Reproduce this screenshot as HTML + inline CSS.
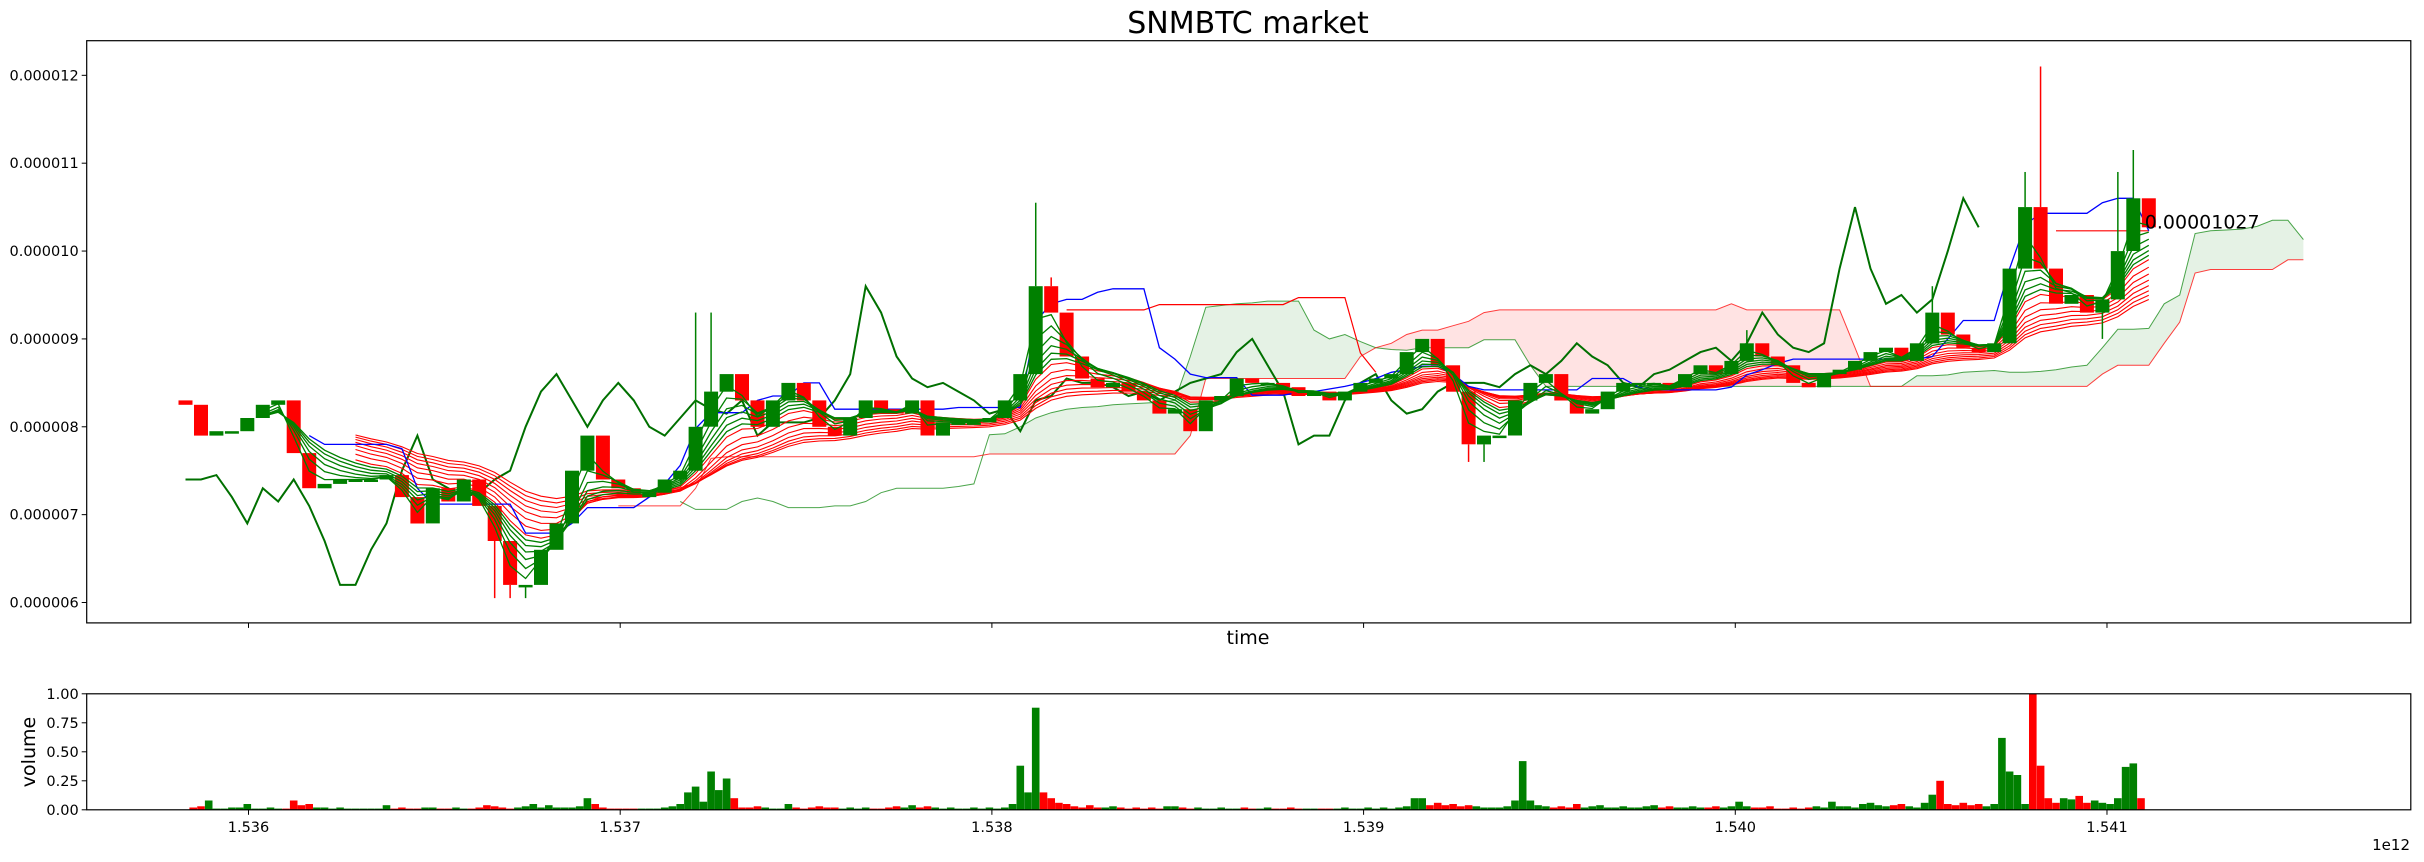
<!DOCTYPE html>
<html><head><meta charset="utf-8"><style>
html,body{margin:0;padding:0;background:#fff;}
svg{display:block;font-family:"DejaVu Sans","Liberation Sans",sans-serif;}
</style></head><body>
<svg id="chart" width="2424" height="862" viewBox="0 0 2424 862" xmlns="http://www.w3.org/2000/svg">
<rect x="0" y="0" width="2424" height="862" fill="#fff"/>
<text x="1248" y="33" font-size="30" text-anchor="middle" fill="#000">SNMBTC market</text>
<g id="main"></g>
<g id="vol"></g>
<rect x="86.7" y="40.7" width="2324.1" height="582.2" fill="none" stroke="#000" stroke-width="1.2"/>
<rect x="86.7" y="693.8" width="2324.1" height="116" fill="none" stroke="#000" stroke-width="1.2"/>
<text x="1248" y="644" font-size="19" text-anchor="middle">time</text>
<text transform="translate(35,752) rotate(-90)" font-size="19" text-anchor="middle">volume</text>
<text x="2410" y="850" font-size="15" text-anchor="end">1e12</text>
<g id="axes"></g>
</svg>
<script>
// ---- data ----
const closes = [8.25,7.9,7.95,7.95,8.1,8.25,8.3,7.7,
7.3,7.35,7.4,7.4,7.4,7.45,7.2,6.9,7.3,7.15,
7.4,7.1,6.7,6.2,6.2,6.6,6.9,7.5,7.9,7.4,
7.3,7.2,7.25,7.4,7.5,8.0,8.4,8.6,8.3,8.0,
8.3,8.5,8.3,8.0,7.9,8.1,8.3,8.2,8.15,8.3,
7.9,8.05,8.05,8.05,8.1,8.3,8.6,9.6,9.3,8.8,
8.55,8.45,8.5,8.4,8.3,8.15,8.2,7.95,8.3,8.35,
8.55,8.5,8.5,8.45,8.35,8.4,8.3,8.4,8.5,8.55,
8.6,8.85,9.0,8.7,8.4,7.8,7.9,7.9,8.3,8.5,
8.6,8.3,8.15,8.2,8.4,8.5,8.5,8.5,8.45,8.6,
8.7,8.6,8.75,8.95,8.8,8.7,8.5,8.45,8.6,8.65,
8.75,8.85,8.9,8.75,8.95,9.3,9.05,8.9,8.85,8.95,
9.8,10.5,9.8,9.4,9.5,9.3,9.45,10.0,10.6,10.27];
const firstOpen = 8.3;
const wickHighs = {33:9.3,34:9.3,55:10.55,56:9.7,101:9.1,113:9.6,119:10.9,120:12.1,125:10.9,126:11.15};
const wickLows = {20:6.05,21:6.05,22:6.05,83:7.6,84:7.6,124:9.0};
const kijun = [null,null,null,null,null,null,null,null,
7.9,7.8,7.8,7.8,7.8,7.8,7.75,7.3,7.12,7.12,7.12,7.12,7.12,7.12,6.79,6.79,6.79,6.9,7.08,7.08,7.08,7.08,
7.2,7.35,7.56,7.98,8.16,8.16,8.16,8.3,8.35,8.35,8.5,8.5,8.2,8.2,8.2,8.2,8.2,8.2,8.2,8.2,
8.22,8.22,8.22,8.22,8.22,9.2,9.4,9.45,9.45,9.53,9.57,9.57,9.57,8.9,8.77,8.6,8.56,8.56,8.56,8.36,
8.36,8.36,8.39,8.4,8.43,8.46,8.5,8.55,8.62,8.65,8.69,8.69,8.6,8.46,8.42,8.42,8.42,8.42,8.42,8.42,
8.42,8.55,8.55,8.55,8.45,8.42,8.42,8.42,8.42,8.42,8.45,8.59,8.65,8.72,8.77,8.77,8.77,8.77,8.77,8.77,
8.77,8.77,8.77,8.8,9.0,9.21,9.21,9.21,9.8,10.3,10.43,10.43,10.43,10.43,10.55,10.6,10.6,10.23];
const spanA = [null,null,null,null,null,null,null,null,null,null,null,null,null,null,null,null,
null,null,null,null,null,null,null,null,null,null,null,null,null,null,null,null,
7.15,7.06,7.06,7.06,7.15,7.19,7.15,7.08,7.08,7.08,7.1,7.1,7.15,7.25,7.3,7.3,7.3,7.3,7.32,7.35,
7.91,7.92,8.0,8.1,8.16,8.2,8.22,8.23,8.25,8.26,8.27,8.28,8.3,8.8,9.36,9.38,9.4,9.41,9.43,9.43,9.43,
9.1,9.0,9.05,8.97,8.9,8.88,8.87,8.9,8.9,8.9,8.9,8.99,8.99,8.99,8.7,
8.46,8.46,8.46,8.46,8.46,8.46,8.46,8.46,8.46,8.46,8.46,8.46,8.46,8.46,8.46,8.46,8.46,8.46,8.46,8.46,8.46,8.46,8.46,8.46,
8.58,8.58,8.59,8.62,8.63,8.64,8.62,8.62,8.63,8.65,8.68,8.7,8.9,9.11,9.11,9.12,9.4,9.5,10.2,10.23,10.24,10.25,10.28,10.35,10.35,10.13];
const spanB = [null,null,null,null,null,null,null,null,null,null,null,null,null,null,null,null,
null,null,null,null,null,null,null,null,null,null,null,null,
7.1,7.1,7.1,7.1,7.1,7.3,7.64,
7.66,7.66,7.66,7.66,7.66,7.66,7.66,7.66,7.66,7.66,7.66,7.66,7.66,7.66,7.66,7.66,7.66,
7.69,7.69,7.69,7.69,7.69,7.69,7.69,7.69,7.69,7.69,7.69,7.69,7.69,7.9,
8.55,8.55,8.55,8.55,8.55,8.55,8.55,8.55,8.55,8.55,
8.8,8.9,8.95,9.05,9.1,9.1,9.15,9.2,9.3,
9.33,9.33,9.33,9.33,9.33,9.33,9.33,9.33,9.33,9.33,9.33,9.33,9.33,9.33,9.33,9.4,
9.33,9.33,9.33,9.33,9.33,9.33,9.33,8.9,
8.46,8.46,8.46,8.46,8.46,8.46,8.46,8.46,8.46,8.46,8.46,8.46,8.46,8.46,8.46,
8.6,8.7,8.7,8.7,8.95,9.19,9.75,9.79,9.79,9.79,9.79,9.79,9.9,9.9];
const redLevel = {57:9.33,58:9.33,59:9.33,60:9.33,61:9.33,62:9.33,63:9.39,64:9.39,65:9.39,66:9.39,67:9.39,68:9.39,69:9.39,70:9.39,71:9.39,72:9.47,73:9.47,74:9.47,75:9.47,76:8.84,77:8.62};
const lastLevel = {121:10.23,122:10.23,123:10.23,124:10.23,125:10.23,126:10.23,127:10.23};
const volumes = [0.00,0.02,0.03,0.08,0.01,0.01,0.02,0.02,0.05,0.01,0.01,0.02,0.01,0.01,0.08,0.04,0.05,0.02,0.02,0.01,
0.02,0.01,0.01,0.01,0.01,0.01,0.04,0.01,0.02,0.01,0.01,0.02,0.02,0.01,0.01,0.02,0.01,0.01,0.02,0.04,
0.03,0.02,0.01,0.02,0.03,0.05,0.02,0.04,0.02,0.02,0.02,0.03,0.1,0.05,0.02,0.01,0.01,0.01,0.01,0.01,
0.01,0.01,0.02,0.03,0.05,0.15,0.2,0.07,0.33,0.17,0.27,0.1,0.02,0.02,0.03,0.02,0.01,0.01,0.05,0.02,
0.01,0.02,0.03,0.02,0.02,0.01,0.02,0.01,0.02,0.01,0.01,0.02,0.03,0.02,0.04,0.02,0.03,0.02,0.01,0.02,
0.01,0.01,0.02,0.01,0.02,0.01,0.02,0.05,0.38,0.15,0.88,0.15,0.1,0.06,0.05,0.03,0.02,0.04,0.02,0.02,
0.03,0.02,0.01,0.02,0.01,0.02,0.01,0.03,0.03,0.02,0.01,0.02,0.01,0.01,0.02,0.01,0.01,0.02,0.01,0.01,
0.02,0.01,0.01,0.02,0.01,0.01,0.01,0.01,0.01,0.01,0.02,0.01,0.01,0.02,0.01,0.02,0.01,0.02,0.03,0.1,
0.1,0.04,0.06,0.04,0.05,0.03,0.04,0.03,0.02,0.02,0.02,0.03,0.08,0.42,0.08,0.04,0.03,0.02,0.03,0.02,
0.05,0.02,0.03,0.04,0.02,0.02,0.03,0.02,0.02,0.03,0.04,0.02,0.03,0.02,0.02,0.03,0.02,0.02,0.03,0.02,
0.03,0.07,0.03,0.02,0.02,0.03,0.01,0.01,0.02,0.01,0.02,0.03,0.02,0.07,0.03,0.03,0.02,0.05,0.06,0.04,
0.03,0.04,0.05,0.03,0.02,0.06,0.13,0.25,0.05,0.04,0.06,0.04,0.05,0.03,0.05,0.62,0.33,0.3,0.05,1.0,
0.38,0.1,0.06,0.1,0.09,0.12,0.06,0.08,0.06,0.05,0.1,0.37,0.4,0.1];
const yTicks = [6,7,8,9,10,11,12];
const yTickLabels = ["0.000006","0.000007","0.000008","0.000009","0.000010","0.000011","0.000012"];
const xTicks = [1.536,1.537,1.538,1.539,1.540,1.541];
const xTickLabels = ["1.536","1.537","1.538","1.539","1.540","1.541"];
const volTicks = [0,0.25,0.5,0.75,1.0];
const volTickLabels = ["0.00","0.25","0.50","0.75","1.00"];
const lastPriceLabel = "0.00001027";
const t0 = 1535830500000, tStep = 41590000;
const greenPeriods = [2,3,4,5,6,7];
const redPeriods = [8,10,12,14,16,18,20,22];
const chikouShift = 11;

// ---- axes functions ----
const L=86.7,R=2410.8,T=40.7,B=622.9,VT=693.8,VB=809.8;
const tMin=1535564700000,tMax=1541817400000,vMin=5.768,vMax=12.394;
const X=t=>L+(t-tMin)/(tMax-tMin)*(R-L);
const Y=v=>B-(v-vMin)/(vMax-vMin)*(B-T);
const VY=v=>VB-v*(VB-VT);
const tAt=i=>t0+i*tStep;
const NS="http://www.w3.org/2000/svg";
const main=document.getElementById('main'),vol=document.getElementById('vol'),axes=document.getElementById('axes');
function mk(tag,attrs,parent){const e=document.createElementNS(NS,tag);for(const k in attrs)e.setAttribute(k,attrs[k]);parent.appendChild(e);return e;}
function linePath(vals,startIdx){let d='',pen=false;for(let i=startIdx||0;i<vals.length;i++){const v=vals[i];if(v==null){pen=false;continue;}d+=(pen?'L':'M')+X(tAt(i)).toFixed(1)+' '+Y(v).toFixed(1);pen=true;}return d;}
function dictToArr(d,n){const a=new Array(n).fill(null);for(const k in d)a[+k]=d[k];return a;}
const clip=mk('clipPath',{id:'mc'},main);mk('rect',{x:L,y:T,width:R-L,height:B-T},clip);
const g=mk('g',{'clip-path':'url(#mc)'},main);

// cloud fill
const fills=mk('g',{},g);


let run=null;
function flush(){if(!run)return;const pts=[];for(let i=run.s;i<=run.e;i++)pts.push(X(tAt(i)).toFixed(1)+','+Y(spanA[i]).toFixed(1));for(let i=run.e;i>=run.s;i--)pts.push(X(tAt(i)).toFixed(1)+','+Y(spanB[i]).toFixed(1));
 const p=mk('polygon',{points:pts.join(' '),fill:run.up?'rgba(0,128,0,0.1)':'rgba(255,0,0,0.11)'},fills);
 
 run=null;}
for(let i=52;i<spanA.length-1;i++){const up=(spanA[i]+spanA[i+1])>=(spanB[i]+spanB[i+1]);if(run&&run.up===up){run.e=i+1;}else{flush();run={s:i,e:i+1,up:up};}}
flush();
const sa=mk('path',{d:linePath(spanA),fill:'none',stroke:'green','stroke-width':1,'stroke-opacity':0.7},g);


const sb=mk('path',{d:linePath(spanB),fill:'none',stroke:'red','stroke-width':1,'stroke-opacity':0.75},g);



// chikou
const chikou=closes.map((c,i)=>i+chikouShift<closes.length?closes[i+chikouShift]:null);
const ch=mk('path',{d:linePath(chikou),fill:'none',stroke:'#007000','stroke-width':2},g);



// red levels
const rl=mk('path',{d:linePath(dictToArr(redLevel,closes.length))+linePath(dictToArr(lastLevel,closes.length)),fill:'none',stroke:'red','stroke-width':1.2},g);



// EMAs
function ema(arr,p){const k=2/(p+1);const out=[];let e=arr[0];for(let i=0;i<arr.length;i++){e=i===0?arr[0]:arr[i]*k+e*(1-k);out.push(e);}return out;}
redPeriods.forEach(p=>{const e=ema(closes,p);for(let i=0;i<11;i++)e[i]=null;
 const el=mk('path',{d:linePath(e),fill:'none',stroke:'red','stroke-width':1.1},g);
 
 });
// kijun (blue)
const kj=mk('path',{d:linePath(kijun),fill:'none',stroke:'blue','stroke-width':1.3},g);



// candles
const bw=14;
for(let i=0;i<closes.length;i++){
 const o=i===0?firstOpen:closes[i-1],c=closes[i];const up=c>=o;const col=up?'green':'red';const x=X(tAt(i));
 const hi=wickHighs[i],lo=wickLows[i];
 const top=Math.max(o,c),bot=Math.min(o,c);
 if(hi!=null){const w=mk('line',{x1:x,x2:x,y1:Y(hi),y2:Y(top),stroke:col,'stroke-width':1.5},g);
  
  }
 if(lo!=null){const w=mk('line',{x1:x,x2:x,y1:Y(bot),y2:Y(lo),stroke:col,'stroke-width':1.5},g);
  
  }
 const yt=Y(top),h=Math.max(2.5,Y(bot)-yt);
 const r=mk('rect',{x:(x-bw/2).toFixed(1),y:yt.toFixed(1),width:bw,height:h.toFixed(1),fill:col},g);
 
 
}
// green EMAs on top
greenPeriods.forEach(p=>{const e=ema(closes,p);for(let i=0;i<5;i++)e[i]=null;
 const el=mk('path',{d:linePath(e),fill:'none',stroke:'green','stroke-width':1.3},g);
 
 });

// last price label
const lp=mk('text',{x:X(tAt(closes.length-1))-4,y:Y(closes[closes.length-1])+1,'font-size':19,fill:'#000'},main);
lp.textContent=lastPriceLabel;



// volume bars
for(let j=0;j<volumes.length;j++){
 const ci=Math.min(closes.length-1,Math.round(j/2));const o=ci===0?firstOpen:closes[ci-1];const col=closes[ci]>=o?'green':'red';
 const x=X(t0+j*tStep/2);const y=VY(volumes[j]);
 const r=mk('rect',{x:(x-3.8).toFixed(1),y:y.toFixed(1),width:7.6,height:(VB-y).toFixed(1),fill:col},vol);
 
 
}

// axes ticks
yTicks.forEach((v,k)=>{const y=Y(v);mk('line',{x1:L-5,x2:L,y1:y,y2:y,stroke:'#000'},axes);
 const t=mk('text',{x:L-8,y:y+5,'font-size':14.5,'text-anchor':'end'},axes);t.textContent=yTickLabels[k];
 
 });
xTicks.forEach((v,k)=>{const x=X(v*1e12);
 mk('line',{x1:x,x2:x,y1:B,y2:B+5,stroke:'#000'},axes);
 mk('line',{x1:x,x2:x,y1:VB,y2:VB+5,stroke:'#000'},axes);
 const t=mk('text',{x:x,y:VB+22,'font-size':14.5,'text-anchor':'middle'},axes);t.textContent=xTickLabels[k];
 
 });
volTicks.forEach((v,k)=>{const y=VY(v);mk('line',{x1:L-5,x2:L,y1:y,y2:y,stroke:'#000'},axes);
 const t=mk('text',{x:L-8,y:y+5,'font-size':14.5,'text-anchor':'end'},axes);t.textContent=volTickLabels[k];
 
 });
</script>
</body></html>
